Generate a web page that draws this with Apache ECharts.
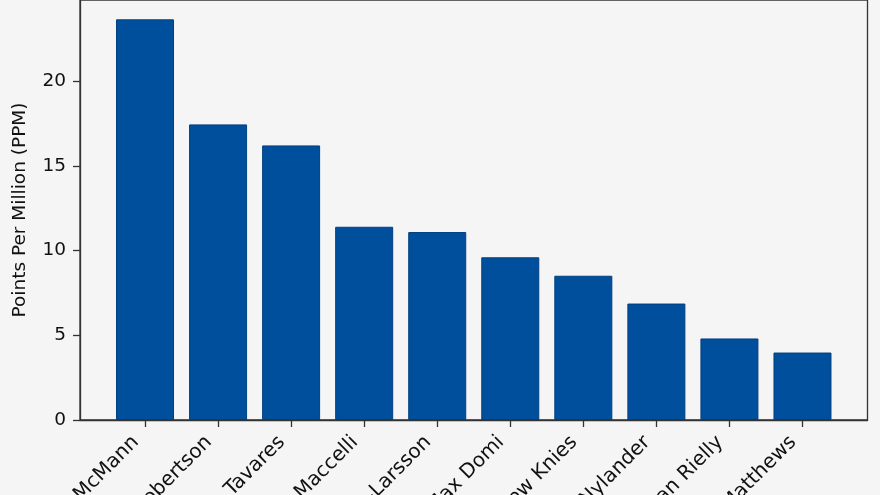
<!DOCTYPE html>
<html>
<head>
<meta charset="utf-8">
<script src="https://cdn.jsdelivr.net/npm/echarts@6/dist/echarts.min.js"></script>
<style>
html,body{margin:0;padding:0;background:#f5f5f5;}
#c{width:880px;height:495px;}
</style>
</head>
<body>
<div id="c"></div>
<script>
const players = ["Bobby McMann","Nicholas Robertson","John Tavares","Matias Maccelli","Oliver Ekman-Larsson","Max Domi","Matthew Knies","William Nylander","Morgan Rielly","Auston Matthews"];
const ppm = [23.64, 17.44, 16.2, 11.4, 11.09, 9.6, 8.51, 6.87, 4.81, 3.98];
const yTicks = [0, 5, 10, 15, 20];
const xTicks = players.map((p, i) => i);

const chart = echarts.init(document.getElementById('c'), null, {renderer: 'canvas'});
const font = 'DejaVu Sans';
const axisColor = '#333';
chart.setOption({
  animation: false,
  backgroundColor: '#f5f5f5',
  grid: {left: 80, right: 12.5, top: 0, bottom: 75, containLabel: false, outerBoundsMode: 'none',
    show: true, borderColor: axisColor, borderWidth: 1.3, backgroundColor: '#f5f5f5'},
  xAxis: {
    type: 'value', min: -0.89, max: 9.89,
    splitLine: {show: false},
    axisLine: {show: true, onZero: false, lineStyle: {color: axisColor, width: 1.3}},
    axisTick: {show: true, customValues: xTicks, length: 7, lineStyle: {color: axisColor, width: 1.3}},
    axisLabel: {customValues: xTicks, formatter: v => players[Math.round(v)], rotate: 45, margin: 10,
      fontSize: 20, fontFamily: font, color: '#111', padding: [0, 13, 0, 0]}
  },
  yAxis: {
    type: 'value', min: 0, max: 24.78,
    name: 'Points Per Million (PPM)', nameLocation: 'middle', nameRotate: 90, nameGap: 50,
    nameTextStyle: {fontSize: 18.5, fontFamily: font, color: '#111'},
    splitLine: {show: false},
    axisLine: {show: true, onZero: false, lineStyle: {color: axisColor, width: 1.3}},
    axisTick: {show: true, customValues: yTicks, length: 7, lineStyle: {color: axisColor, width: 1.3}},
    axisLabel: {customValues: yTicks, margin: 14, fontSize: 18.5, fontFamily: font, color: '#111'}
  },
  series: [{
    type: 'bar',
    data: ppm.map((v, i) => [i, v]),
    barWidth: 58,
    itemStyle: {color: '#004f9c', borderColor: '#003f7f', borderWidth: 1}
  }]
});
</script>
</body>
</html>
